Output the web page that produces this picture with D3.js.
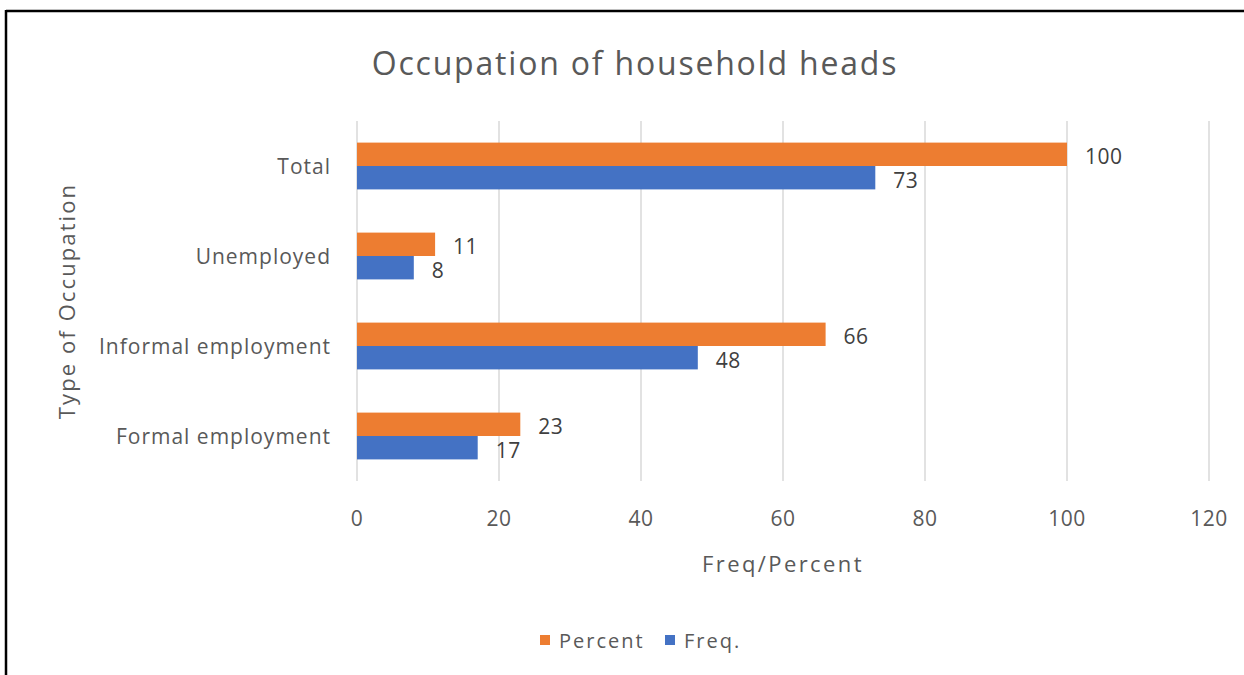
<!DOCTYPE html>
<html>
<head>
<meta charset="utf-8">
<script src="https://cdn.jsdelivr.net/npm/d3@7"></script>
<style>
  body { margin: 0; background: #fff; }
  svg { display: block; font-family: "Open Sans", Lato, sans-serif; }
</style>
</head>
<body>
<div id="chart"></div>
<script>
// Chart data
var categories = ["Total", "Unemployed", "Informal employment", "Formal employment"];
var percentValues = [100, 11, 66, 23];
var freqValues = [73, 8, 48, 17];
var seriesNames = ["Percent", "Freq."];
var xTicks = [0, 20, 40, 60, 80, 100, 120];

var width = 1244;
var height = 675;
var margin = { top: 121, right: 35, bottom: 194, left: 357 };
var textColor = "#595959";
var colors = { "Percent": "#ED7D31", "Freq.": "#4472C4" };

var svg = d3.select("#chart")
  .append("svg")
  .attr("width", width)
  .attr("height", height);

// outer frame (top and left edges visible in the reference)
svg.append("line").attr("x1", 6).attr("x2", width).attr("y1", 11).attr("y2", 11)
  .attr("stroke", "#000").attr("stroke-width", 2.5);
svg.append("line").attr("x1", 6).attr("x2", 6).attr("y1", 10).attr("y2", height)
  .attr("stroke", "#000").attr("stroke-width", 2.5);

var x = d3.scaleLinear()
  .domain([0, 120])
  .range([margin.left, width - margin.right]);

var y = d3.scaleBand()
  .domain(categories)
  .range([margin.top, height - margin.bottom])
  .paddingInner(0.48)
  .paddingOuter(0.24);

var ySub = d3.scaleBand()
  .domain(seriesNames)
  .range([0, y.bandwidth()]);

// gridlines
svg.append("g")
  .selectAll("line")
  .data(xTicks)
  .enter()
  .append("line")
  .attr("x1", (d) => x(d))
  .attr("x2", (d) => x(d))
  .attr("y1", margin.top)
  .attr("y2", height - margin.bottom)
  .attr("stroke", "#d9d9d9")
  .attr("stroke-width", 1.5);

// x tick labels
svg.append("g")
  .selectAll("text")
  .data(xTicks)
  .enter()
  .append("text")
  .attr("x", (d) => x(d))
  .attr("y", 518)
  .attr("text-anchor", "middle")
  .attr("dominant-baseline", "central")
  .attr("font-size", "21px")
  .attr("letter-spacing", "0.5px")
  .attr("fill", textColor)
  .text((d) => d);

// category labels
svg.append("g")
  .selectAll("text")
  .data(categories)
  .enter()
  .append("text")
  .attr("x", 331)
  .attr("y", (d) => y(d) + y.bandwidth() / 2)
  .attr("text-anchor", "end")
  .attr("dominant-baseline", "central")
  .attr("font-size", "21px")
  .attr("letter-spacing", "1px")
  .attr("fill", textColor)
  .text((d) => d);

// bars
var rows = categories.map((c, i) => ({
  cat: c,
  vals: [
    { series: "Percent", value: percentValues[i] },
    { series: "Freq.", value: freqValues[i] }
  ]
}));

var groups = svg.append("g")
  .selectAll("g")
  .data(rows)
  .enter()
  .append("g")
  .attr("transform", (d) => "translate(0," + y(d.cat) + ")");

groups.selectAll("rect")
  .data((d) => d.vals)
  .enter()
  .append("rect")
  .attr("x", x(0))
  .attr("y", (d) => ySub(d.series))
  .attr("width", (d) => x(d.value) - x(0))
  .attr("height", ySub.bandwidth())
  .attr("fill", (d) => colors[d.series]);

// value labels
groups.selectAll("text")
  .data((d) => d.vals)
  .enter()
  .append("text")
  .attr("x", (d) => x(d.value) + 18)
  .attr("y", (d) => ySub(d.series) + ySub.bandwidth() / 2 + 2)
  .attr("dominant-baseline", "central")
  .attr("font-size", "21px")
  .attr("letter-spacing", "0.5px")
  .attr("fill", "#404040")
  .text((d) => d.value);

// title
svg.append("text")
  .attr("x", 635)
  .attr("y", 62)
  .attr("text-anchor", "middle")
  .attr("dominant-baseline", "central")
  .attr("font-size", "32px")
  .attr("letter-spacing", "1.8px")
  .attr("fill", textColor)
  .text("Occupation of household heads");

// axis titles
svg.append("text")
  .attr("x", (x(0) + x(120)) / 2)
  .attr("y", 563)
  .attr("text-anchor", "middle")
  .attr("dominant-baseline", "central")
  .attr("font-size", "22px")
  .attr("letter-spacing", "2.4px")
  .attr("fill", textColor)
  .text("Freq/Percent");

svg.append("text")
  .attr("transform", "translate(66," + (margin.top + (height - margin.bottom - margin.top) / 2) + ") rotate(-90)")
  .attr("text-anchor", "middle")
  .attr("dominant-baseline", "central")
  .attr("font-size", "22px")
  .attr("letter-spacing", "2.1px")
  .attr("fill", textColor)
  .text("Type of Occupation");

// legend
var legend = svg.append("g").attr("transform", "translate(540,640)");
var legendX = [0, 125];
seriesNames.forEach(function (s, i) {
  var g = legend.append("g").attr("transform", "translate(" + legendX[i] + ",0)");
  g.append("rect")
    .attr("x", 0)
    .attr("y", -5)
    .attr("width", 10)
    .attr("height", 10)
    .attr("fill", colors[s]);
  g.append("text")
    .attr("x", 19)
    .attr("y", 0)
    .attr("dominant-baseline", "central")
    .attr("font-size", "20px")
    .attr("letter-spacing", "2px")
    .attr("fill", textColor)
    .text(s);
});
</script>
</body>
</html>
